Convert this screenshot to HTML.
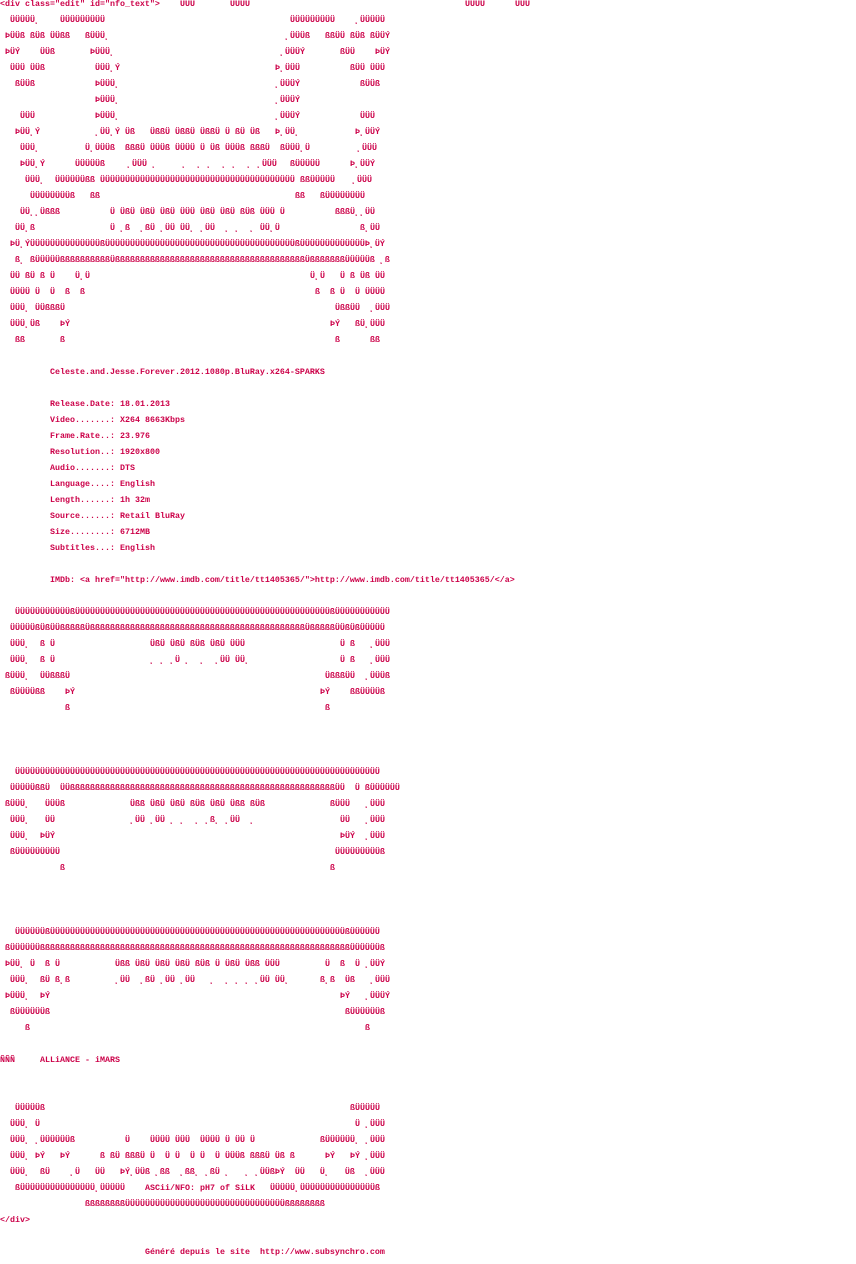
<!DOCTYPE html>
<html><head><meta charset="utf-8">
<style>
html,body{margin:0;padding:0;background:#fff;width:856px;height:1264px;overflow:hidden;position:relative}
i{position:absolute;font-style:normal;font-weight:bold;white-space:pre;font-family:"Liberation Mono","DejaVu Sans Mono",monospace;font-size:8.333px;line-height:16px;color:#cc0048}
</style></head><body>
<i style="left:0;top:-4px">&lt;div class="edit" id="nfo_text"&gt;</i><i style="left:180px;top:-4px">ÜÜÜ</i><i style="left:230px;top:-4px">ÜÜÜÜ</i><i style="left:465px;top:-4px">ÜÜÜÜ</i><i style="left:515px;top:-4px">ÜÜÜ</i>
<i style="left:10px;top:12px">ÜÜÜÜÜ¸</i><i style="left:60px;top:12px">ÜÜÜÜÜÜÜÜÜ</i><i style="left:290px;top:12px">ÜÜÜÜÜÜÜÜÜ</i><i style="left:355px;top:12px">¸ÜÜÜÜÜ</i>
<i style="left:5px;top:28px">ÞÜÜß ßÜß ÜÜßß</i><i style="left:85px;top:28px">ßÜÜÜ¸</i><i style="left:285px;top:28px">¸ÜÜÜß</i><i style="left:325px;top:28px">ßßÜÜ ßÜß ßÜÜÝ</i>
<i style="left:5px;top:44px">ÞÜÝ</i><i style="left:40px;top:44px">ÜÜß</i><i style="left:90px;top:44px">ÞÜÜÜ¸</i><i style="left:280px;top:44px">¸ÜÜÜÝ</i><i style="left:340px;top:44px">ßÜÜ</i><i style="left:375px;top:44px">ÞÜÝ</i>
<i style="left:10px;top:60px">ÜÜÜ ÜÜß</i><i style="left:95px;top:60px">ÜÜÜ¸Ý</i><i style="left:275px;top:60px">Þ¸ÜÜÜ</i><i style="left:350px;top:60px">ßÜÜ ÜÜÜ</i>
<i style="left:15px;top:76px">ßÜÜß</i><i style="left:95px;top:76px">ÞÜÜÜ¸</i><i style="left:275px;top:76px">¸ÜÜÜÝ</i><i style="left:360px;top:76px">ßÜÜß</i>
<i style="left:95px;top:92px">ÞÜÜÜ¸</i><i style="left:275px;top:92px">¸ÜÜÜÝ</i>
<i style="left:20px;top:108px">ÜÜÜ</i><i style="left:95px;top:108px">ÞÜÜÜ¸</i><i style="left:275px;top:108px">¸ÜÜÜÝ</i><i style="left:360px;top:108px">ÜÜÜ</i>
<i style="left:15px;top:124px">ÞÜÜ¸Ý</i><i style="left:95px;top:124px">¸ÜÜ¸Ý Üß</i><i style="left:150px;top:124px">ÜßßÜ ÜßßÜ ÜßßÜ Ü ßÜ Üß</i><i style="left:275px;top:124px">Þ¸ÜÜ¸</i><i style="left:355px;top:124px">Þ¸ÜÜÝ</i>
<i style="left:20px;top:140px">ÜÜÜ¸</i><i style="left:85px;top:140px">Ü¸ÜÜÜß</i><i style="left:125px;top:140px">ßßßÜ ÜÜÜß ÜÜÜÜ Ü Üß ÜÜÜß ßßßÜ</i><i style="left:280px;top:140px">ßÜÜÜ¸Ü</i><i style="left:357px;top:140px">¸ÜÜÜ</i>
<i style="left:20px;top:156px">ÞÜÜ¸Ý</i><i style="left:75px;top:156px">ÜÜÜÜÜß</i><i style="left:127px;top:156px">¸ÜÜÜ ¸     ¸  ¸ ¸  ¸ ¸  ¸ ¸ÜÜÜ</i><i style="left:290px;top:156px">ßÜÜÜÜÜ</i><i style="left:350px;top:156px">Þ¸ÜÜÝ</i>
<i style="left:25px;top:172px">ÜÜÜ¸</i><i style="left:55px;top:172px">ÜÜÜÜÜÜßß</i><i style="left:100px;top:172px">ÜÜÜÜÜÜÜÜÜÜÜÜÜÜÜÜÜÜÜÜÜÜÜÜÜÜÜÜÜÜÜÜÜÜÜÜÜÜÜ</i><i style="left:300px;top:172px">ßßÜÜÜÜÜ</i><i style="left:352px;top:172px">¸ÜÜÜ</i>
<i style="left:30px;top:188px">ÜÜÜÜÜÜÜÜß</i><i style="left:90px;top:188px">ßß</i><i style="left:295px;top:188px">ßß</i><i style="left:320px;top:188px">ßÜÜÜÜÜÜÜÜ</i>
<i style="left:20px;top:204px">ÜÜ¸¸Üßßß</i><i style="left:110px;top:204px">Ü ÜßÜ ÜßÜ ÜßÜ ÜÜÜ ÜßÜ ÜßÜ ßÜß ÜÜÜ Ü</i><i style="left:335px;top:204px">ßßßÜ¸¸ÜÜ</i>
<i style="left:15px;top:220px">ÜÜ¸ß</i><i style="left:110px;top:220px">Ü ¸ß  ¸ßÜ ¸ÜÜ ÜÜ¸ ¸ÜÜ  ¸ ¸  ¸ ÜÜ¸Ü</i><i style="left:360px;top:220px">ß¸ÜÜ</i>
<i style="left:10px;top:236px">ÞÜ¸ÝÜÜÜÜÜÜÜÜÜÜÜÜÜÜßÜÜÜÜÜÜÜÜÜÜÜÜÜÜÜÜÜÜÜÜÜÜÜÜÜÜÜÜÜÜÜÜÜÜÜÜÜÜßÜÜÜÜÜÜÜÜÜÜÜÜÜÞ¸ÜÝ</i>
<i style="left:15px;top:252px">ß¸ ßÜÜÜÜÜßßßßßßßßßßÜßßßßßßßßßßßßßßßßßßßßßßßßßßßßßßßßßßßßßßÜßßßßßßßÜÜÜÜÜß ¸ß</i>
<i style="left:10px;top:268px">ÜÜ ßÜ ß Ü</i><i style="left:75px;top:268px">Ü¸Ü</i><i style="left:310px;top:268px">Ü¸Ü</i><i style="left:340px;top:268px">Ü ß Üß ÜÜ</i>
<i style="left:10px;top:284px">ÜÜÜÜ Ü  Ü  ß  ß</i><i style="left:315px;top:284px">ß  ß Ü  Ü ÜÜÜÜ</i>
<i style="left:10px;top:300px">ÜÜÜ¸ ÜÜßßßÜ</i><i style="left:335px;top:300px">ÜßßÜÜ  ¸ÜÜÜ</i>
<i style="left:10px;top:316px">ÜÜÜ¸Üß    ÞÝ</i><i style="left:330px;top:316px">ÞÝ   ßÜ¸ÜÜÜ</i>
<i style="left:15px;top:332px">ßß</i><i style="left:60px;top:332px">ß</i><i style="left:335px;top:332px">ß</i><i style="left:370px;top:332px">ßß</i>
<i style="left:50px;top:364px">Celeste.and.Jesse.Forever.2012.1080p.BluRay.x264-SPARKS</i>
<i style="left:50px;top:396px">Release.Date: 18.01.2013</i>
<i style="left:50px;top:412px">Video.......: X264 8663Kbps</i>
<i style="left:50px;top:428px">Frame.Rate..: 23.976</i>
<i style="left:50px;top:444px">Resolution..: 1920x800</i>
<i style="left:50px;top:460px">Audio.......: DTS</i>
<i style="left:50px;top:476px">Language....: English</i>
<i style="left:50px;top:492px">Length......: 1h 32m</i>
<i style="left:50px;top:508px">Source......: Retail BluRay</i>
<i style="left:50px;top:524px">Size........: 6712MB</i>
<i style="left:50px;top:540px">Subtitles...: English</i>
<i style="left:50px;top:572px">IMDb: &lt;a href="http://www.imdb.com/title/tt1405365/"&gt;http://www.imdb.com/title/tt1405365/&lt;/a&gt;</i>
<i style="left:15px;top:604px">ÜÜÜÜÜÜÜÜÜÜÜßÜÜÜÜÜÜÜÜÜÜÜÜÜÜÜÜÜÜÜÜÜÜÜÜÜÜÜÜÜÜÜÜÜÜÜÜÜÜÜÜÜÜÜÜÜÜÜÜÜÜÜßÜÜÜÜÜÜÜÜÜÜÜ</i>
<i style="left:10px;top:620px">ÜÜÜÜÜßÜßÜÜßßßßßÜßßßßßßßßßßßßßßßßßßßßßßßßßßßßßßßßßßßßßßßßßßßÜßßßßßÜÜßÜßÜÜÜÜÜ</i>
<i style="left:10px;top:636px">ÜÜÜ¸  ß Ü</i><i style="left:150px;top:636px">ÜßÜ ÜßÜ ßÜß ÜßÜ ÜÜÜ</i><i style="left:340px;top:636px">Ü ß   ¸ÜÜÜ</i>
<i style="left:10px;top:652px">ÜÜÜ¸  ß Ü</i><i style="left:150px;top:652px">¸ ¸ ¸Ü ¸  ¸  ¸ÜÜ ÜÜ¸</i><i style="left:340px;top:652px">Ü ß   ¸ÜÜÜ</i>
<i style="left:5px;top:668px">ßÜÜÜ¸  ÜÜßßßÜ</i><i style="left:325px;top:668px">ÜßßßÜÜ  ¸ÜÜÜß</i>
<i style="left:10px;top:684px">ßÜÜÜÜßß    ÞÝ</i><i style="left:320px;top:684px">ÞÝ    ßßÜÜÜÜß</i>
<i style="left:65px;top:700px">ß</i><i style="left:325px;top:700px">ß</i>
<i style="left:15px;top:764px">ÜÜÜÜÜÜÜÜÜÜÜÜÜÜÜÜÜÜÜÜÜÜÜÜÜÜÜÜÜÜÜÜÜÜÜÜÜÜÜÜÜÜÜÜÜÜÜÜÜÜÜÜÜÜÜÜÜÜÜÜÜÜÜÜÜÜÜÜÜÜÜÜÜ</i>
<i style="left:10px;top:780px">ÜÜÜÜÜßßÜ  ÜÜßßßßßßßßßßßßßßßßßßßßßßßßßßßßßßßßßßßßßßßßßßßßßßßßßßßßßÜÜ  Ü ßÜÜÜÜÜÜ</i>
<i style="left:5px;top:796px">ßÜÜÜ¸   ÜÜÜß</i><i style="left:130px;top:796px">Üßß ÜßÜ ÜßÜ ßÜß ÜßÜ Üßß ßÜß</i><i style="left:330px;top:796px">ßÜÜÜ   ¸ÜÜÜ</i>
<i style="left:10px;top:812px">ÜÜÜ¸   ÜÜ</i><i style="left:130px;top:812px">¸ÜÜ ¸ÜÜ ¸ ¸  ¸ ¸ß¸ ¸ÜÜ  ¸</i><i style="left:340px;top:812px">ÜÜ   ¸ÜÜÜ</i>
<i style="left:10px;top:828px">ÜÜÜ¸  ÞÜÝ</i><i style="left:340px;top:828px">ÞÜÝ  ¸ÜÜÜ</i>
<i style="left:10px;top:844px">ßÜÜÜÜÜÜÜÜÜ</i><i style="left:335px;top:844px">ÜÜÜÜÜÜÜÜÜß</i>
<i style="left:60px;top:860px">ß</i><i style="left:330px;top:860px">ß</i>
<i style="left:15px;top:924px">ÜÜÜÜÜÜßÜÜÜÜÜÜÜÜÜÜÜÜÜÜÜÜÜÜÜÜÜÜÜÜÜÜÜÜÜÜÜÜÜÜÜÜÜÜÜÜÜÜÜÜÜÜÜÜÜÜÜÜÜÜÜÜÜÜÜßÜÜÜÜÜÜ</i>
<i style="left:5px;top:940px">ßÜÜÜÜÜÜßßßßßßßßßßßßßßßßßßßßßßßßßßßßßßßßßßßßßßßßßßßßßßßßßßßßßßßßßßßßßßÜÜÜÜÜÜß</i>
<i style="left:5px;top:956px">ÞÜÜ¸ Ü  ß Ü</i><i style="left:115px;top:956px">Üßß ÜßÜ ÜßÜ ÜßÜ ßÜß Ü ÜßÜ Üßß ÜÜÜ</i><i style="left:325px;top:956px">Ü  ß  Ü ¸ÜÜÝ</i>
<i style="left:10px;top:972px">ÜÜÜ¸  ßÜ ß¸ß</i><i style="left:115px;top:972px">¸ÜÜ  ¸ßÜ ¸ÜÜ ¸ÜÜ   ¸  ¸ ¸ ¸ ¸ÜÜ ÜÜ¸</i><i style="left:320px;top:972px">ß¸ß  Üß   ¸ÜÜÜ</i>
<i style="left:5px;top:988px">ÞÜÜÜ¸  ÞÝ</i><i style="left:340px;top:988px">ÞÝ   ¸ÜÜÜÝ</i>
<i style="left:10px;top:1004px">ßÜÜÜÜÜÜß</i><i style="left:345px;top:1004px">ßÜÜÜÜÜÜß</i>
<i style="left:25px;top:1020px">ß</i><i style="left:365px;top:1020px">ß</i>
<i style="left:0;top:1052px">ÑÑÑ</i><i style="left:40px;top:1052px">ALLiANCE - iMARS</i>
<i style="left:15px;top:1100px">ÜÜÜÜÜß</i><i style="left:350px;top:1100px">ßÜÜÜÜÜ</i>
<i style="left:10px;top:1116px">ÜÜÜ¸ Ü</i><i style="left:355px;top:1116px">Ü ¸ÜÜÜ</i>
<i style="left:10px;top:1132px">ÜÜÜ¸ ¸ÜÜÜÜÜÜß</i><i style="left:125px;top:1132px">Ü    ÜÜÜÜ ÜÜÜ  ÜÜÜÜ Ü ÜÜ Ü</i><i style="left:320px;top:1132px">ßÜÜÜÜÜÜ¸ ¸ÜÜÜ</i>
<i style="left:10px;top:1148px">ÜÜÜ¸ ÞÝ   ÞÝ</i><i style="left:100px;top:1148px">ß ßÜ ßßßÜ Ü  Ü Ü  Ü Ü  Ü ÜÜÜß ßßßÜ Üß ß</i><i style="left:325px;top:1148px">ÞÝ   ÞÝ ¸ÜÜÜ</i>
<i style="left:10px;top:1164px">ÜÜÜ¸  ßÜ    ¸Ü   ÜÜ   ÞÝ¸ÜÜß ¸ßß  ¸ßß¸ ¸ßÜ ¸   ¸ ¸ÜÜßÞÝ  ÜÜ   Ü¸   Üß  ¸ÜÜÜ</i>
<i style="left:15px;top:1180px">ßÜÜÜÜÜÜÜÜÜÜÜÜÜÜÜ¸ÜÜÜÜÜ</i><i style="left:145px;top:1180px">ASCii/NFO: pH7 of SiLK</i><i style="left:270px;top:1180px">ÜÜÜÜÜ¸ÜÜÜÜÜÜÜÜÜÜÜÜÜÜÜß</i>
<i style="left:85px;top:1196px">ßßßßßßßßÜÜÜÜÜÜÜÜÜÜÜÜÜÜÜÜÜÜÜÜÜÜÜÜÜÜÜÜÜÜÜÜßßßßßßßß</i>
<i style="left:0;top:1212px">&lt;/div&gt;</i>
<i style="left:145px;top:1244px">Généré depuis le site  http://www.subsynchro.com</i>
</body></html>
